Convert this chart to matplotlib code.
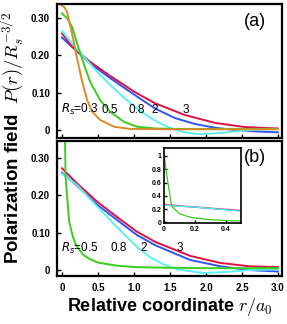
import matplotlib
matplotlib.use("Agg")
import matplotlib.pyplot as plt

plt.rcParams["font.family"] = ["Liberation Sans", "DejaVu Sans"]

# colours per R_s
C_03 = "#d98a2a"
C_05 = "#3ccc22"
C_08 = "#5ef0ee"
C_2 = "#3355ee"
C_3 = "#dd1144"

# panel (a)
xa_03 = [0, 0.035, 0.07, 0.14, 0.21, 0.28, 0.35, 0.42, 0.53, 0.72, 0.94, 1.5, 2.0, 2.5, 3.0]
ya_03 = [0.334, 0.329, 0.317, 0.259, 0.192, 0.13, 0.08, 0.049, 0.027, 0.009, 0.003, 0.002, 0.002, 0.002, 0.002]
xa_05 = [0, 0.07, 0.14, 0.21, 0.3, 0.39, 0.53, 0.67, 0.86, 1.04, 1.3, 1.6, 2.0, 2.5, 3.0]
ya_05 = [0.313, 0.300, 0.277, 0.232, 0.179, 0.13, 0.08, 0.049, 0.022, 0.009, 0.004, 0.003, 0.003, 0.003, 0.003]
xa_08 = [0, 0.14, 0.3, 0.49, 0.67, 0.86, 1.04, 1.2, 1.35, 1.5, 1.7, 1.9, 2.2, 2.5, 2.8, 3.0]
ya_08 = [0.266, 0.232, 0.197, 0.156, 0.121, 0.087, 0.058, 0.036, 0.019, 0.006, -0.006, -0.011, -0.008, -0.002, 0.002, 0.003]
xa_2 = [0, 0.14, 0.39, 0.67, 1.01, 1.29, 1.57, 1.85, 2.13, 2.4, 2.7, 3.0]
ya_2 = [0.248, 0.223, 0.179, 0.139, 0.094, 0.058, 0.032, 0.016, 0.006, 0.0, -0.004, -0.006]
xa_3 = [0, 0.14, 0.39, 0.67, 1.01, 1.29, 1.71, 2.13, 2.54, 3.0]
ya_3 = [0.259, 0.224, 0.183, 0.145, 0.102, 0.072, 0.04, 0.019, 0.008, 0.004]

# panel (b)
xb_05 = [0, 0.02, 0.04, 0.05, 0.07, 0.1, 0.15, 0.2, 0.3, 0.4, 0.5, 0.75, 1.0, 1.5, 2.0, 2.5, 3.0]
yb_05 = [1.03, 0.68, 0.38, 0.25, 0.2, 0.13, 0.09, 0.065, 0.04, 0.028, 0.02, 0.012, 0.008, 0.006, 0.005, 0.005, 0.005]
xb_08 = [0, 0.21, 0.49, 0.76, 1.04, 1.22, 1.4, 1.6, 1.96, 2.3, 2.6, 3.0]
yb_08 = [0.258, 0.228, 0.17, 0.116, 0.062, 0.035, 0.016, 0.002, -0.008, -0.005, 0.0, 0.002]
xb_2 = [0, 0.21, 0.49, 0.76, 1.04, 1.3, 1.78, 2.2, 2.6, 3.0]
yb_2 = [0.261, 0.226, 0.175, 0.135, 0.094, 0.066, 0.027, 0.01, 0.0, -0.004]
xb_3 = [0, 0.21, 0.49, 0.76, 1.04, 1.3, 1.78, 2.2, 2.6, 3.0]
yb_3 = [0.273, 0.232, 0.183, 0.143, 0.103, 0.075, 0.038, 0.019, 0.01, 0.008]

xticks = [0, 0.5, 1.0, 1.5, 2.0, 2.5, 3.0]
xticklabels = ["0", "0.5", "1.0", "1.5", "2.0", "2.5", "3.0"]
yticks = [0, 0.1, 0.2, 0.3]
yticklabels = ["0", "0.10", "0.20", "0.30"]
inset_xticks = [0, 0.2, 0.4]
inset_yticks = [0, 0.2, 0.4, 0.6, 0.8, 1.0]
inset_yticklabels = ["0", "0.2", "0.4", "0.6", "0.8", "1"]

W, H = 287, 324
fig = plt.figure(figsize=(W / 100, H / 100), dpi=100)


def frac(l, t, r, b):
    return [l / W, 1 - b / H, (r - l) / W, (b - t) / H]


def style(ax, lw=1.6, size=7, length=3, pad=4):
    for s in ax.spines.values():
        s.set_linewidth(lw)
    ax.tick_params(direction="in", length=length, width=1, labelsize=size, pad=pad)
    for lab in ax.get_xticklabels() + ax.get_yticklabels():
        lab.set_fontweight("bold")


ax_a = fig.add_axes(frac(57, 4, 282, 138))
ax_b = fig.add_axes(frac(57, 141, 282, 276))

lw = 1.4
ax_a.plot(xa_2, ya_2, color=C_2, lw=lw)
ax_a.plot(xa_3, ya_3, color=C_3, lw=lw)
ax_a.plot(xa_08, ya_08, color=C_08, lw=lw)
ax_a.plot(xa_05, ya_05, color=C_05, lw=lw)
ax_a.plot(xa_03, ya_03, color=C_03, lw=lw)

ax_b.plot(xb_2, yb_2, color=C_2, lw=lw)
ax_b.plot(xb_3, yb_3, color=C_3, lw=lw)
ax_b.plot(xb_08, yb_08, color=C_08, lw=lw)
ax_b.plot(xb_05, yb_05, color=C_05, lw=lw)

ax_a.set_ylim(-0.0214, 0.338)
ax_b.set_ylim(-0.016, 0.346)
for ax in (ax_a, ax_b):
    ax.set_xlim(-0.069, 3.056)
    ax.set_xticks(xticks)
    ax.set_yticks(yticks)
    ax.set_yticklabels(yticklabels)
ax_a.set_xticklabels([])
ax_b.set_xticklabels(xticklabels)
style(ax_a, pad=5)
style(ax_b, pad=5)

lab_kw = dict(fontsize=8.5, va="center")
ax_a.text(-0.02, 0.054, r"$R_s$=0.3", ha="left", **lab_kw)
ax_a.text(0.67, 0.054, "0.5", ha="center", **lab_kw)
ax_a.text(1.04, 0.054, "0.8", ha="center", **lab_kw)
ax_a.text(1.29, 0.054, "2", ha="center", **lab_kw)
ax_a.text(1.72, 0.054, "3", ha="center", **lab_kw)
ax_b.text(-0.02, 0.058, r"$R_s$=0.5", ha="left", **lab_kw)
ax_b.text(0.79, 0.058, "0.8", ha="center", **lab_kw)
ax_b.text(1.14, 0.058, "2", ha="center", **lab_kw)
ax_b.text(1.64, 0.060, "3", ha="center", **lab_kw)

ax_a.text(0.88, 0.87, "(a)", transform=ax_a.transAxes, fontsize=13, ha="center", va="center")
ax_b.text(0.88, 0.88, "(b)", transform=ax_b.transAxes, fontsize=13, ha="center", va="center")

# inset zoom of panel (b)
ax_in = fig.add_axes(frac(164, 148, 241, 223))
ax_in.plot(xb_2, yb_2, color=C_2, lw=0.9)
ax_in.plot(xb_3, yb_3, color=C_3, lw=0.9, alpha=0.6)
ax_in.plot(xb_08, yb_08, color=C_08, lw=0.9)
ax_in.plot(xb_05, yb_05, color=C_05, lw=0.9)
ax_in.set_xlim(0, 0.5)
ax_in.set_ylim(-0.01, 1.12)
ax_in.set_xticks(inset_xticks)
ax_in.set_xticklabels(["0", "0.2", "0.4"])
ax_in.set_yticks(inset_yticks)
ax_in.set_yticklabels(inset_yticklabels)
style(ax_in, lw=1.2, size=5, length=2, pad=2)

fig.text(0.045, 0.5756, r"Polarization field  $P(r)/R_s^{-3/2}$", rotation=90,
         ha="center", va="center", fontsize=13.5, fontweight="bold", math_fontfamily="cm")
fig.text(0.592, 0.0525, r"Relative coordinate $r/a_0$", ha="center", va="center",
         fontsize=13, fontweight="bold", math_fontfamily="cm")

fig.savefig("out.png", dpi=100)
